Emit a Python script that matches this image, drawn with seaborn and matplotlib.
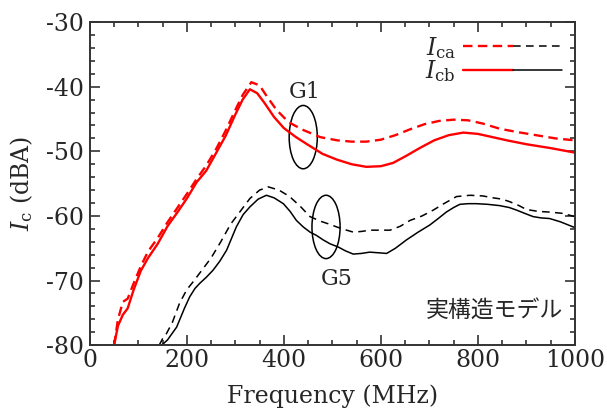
#!/usr/bin/env python3
"""Ic vs frequency for G1 / G5 (Ica dashed, Icb solid)."""
import numpy as np
import pandas as pd
import matplotlib
matplotlib.use("Agg")
import matplotlib.pyplot as plt
from matplotlib.patches import Ellipse
from matplotlib.legend_handler import HandlerTuple
from matplotlib.ticker import MultipleLocator
import seaborn as sns

# --- DATA ---
g1_icb_freq = [50, 58, 68, 78, 90, 105, 120, 140, 160, 180, 200, 220, 240, 260, 280,
               300, 315, 330, 345, 360, 380, 400, 425, 450, 480, 510, 540, 570, 600,
               625, 650, 680, 710, 740, 770, 800, 830, 860, 900, 950, 1000]
g1_icb_val = [-80, -77, -75.3, -74.3, -71.5, -68.5, -66.5, -64.3, -61.6, -59.5, -57.3,
              -54.8, -53, -50.3, -47.6, -44.3, -42, -40.4, -41, -42.5, -44.7, -46.4,
              -47.8, -49, -50.4, -51.3, -52, -52.4, -52.3, -51.8, -50.8, -49.5, -48.3,
              -47.5, -47.1, -47.3, -47.8, -48.3, -48.9, -49.5, -50.2]

g1_ica_freq = [50, 58, 68, 78, 90, 105, 120, 140, 160, 180, 200, 220, 240, 260, 280,
               300, 315, 333, 350, 365, 385, 410, 440, 475, 510, 540, 570, 600, 630,
               660, 690, 720, 750, 780, 810, 845, 880, 920, 960, 1000]
g1_ica_val = [-80, -76, -73.3, -72.8, -70.5, -67.8, -65.5, -63.4, -61, -58.8, -56.6,
              -54.3, -52.2, -49.7, -46.8, -43.6, -41.3, -39.3, -39.8, -41.5, -43.6,
              -45.5, -46.7, -47.8, -48.3, -48.5, -48.5, -48.2, -47.5, -46.6, -45.8,
              -45.3, -45.1, -45.2, -45.7, -46.5, -47, -47.5, -48, -48.3]

g5_icb_freq = [148, 160, 179, 195, 206, 217, 227, 240, 254, 268, 282, 302, 316, 330,
               347, 364, 380, 399, 413, 426, 440, 454, 467, 481, 495, 512, 527, 543,
               560, 577, 595, 612, 630, 653, 677, 701, 720, 735, 750, 763, 780, 797,
               820, 845, 865, 880, 900, 914, 930, 948, 970, 1000]
g5_icb_val = [-80, -79.2, -77.2, -74.3, -72.5, -71.2, -70.4, -69.5, -68.4, -67, -65.3,
              -61.7, -59.8, -58.6, -57.4, -56.8, -57.2, -58.1, -59.3, -60.7, -61.7,
              -62.5, -63, -63.7, -64.3, -64.8, -65.4, -65.9, -65.8, -65.6, -65.7,
              -65.8, -65, -63.7, -62.5, -61.4, -60.3, -59.4, -58.7, -58.2, -58.1,
              -58.1, -58.2, -58.4, -58.7, -59.1, -59.7, -60.1, -60.3, -60.4, -60.9, -61.8]

g5_ica_freq = [143, 150, 158, 170, 185, 200, 215, 230, 250, 270, 290, 310, 330, 350,
               368, 390, 412, 435, 454, 475, 495, 509, 525, 543, 560, 577, 600, 619,
               640, 660, 685, 708, 730, 756, 784, 810, 832, 850, 866, 885, 900, 925,
               948, 975, 1000]
g5_ica_val = [-80, -79, -78.2, -76.5, -73.5, -71.4, -70, -68.5, -66.5, -64, -61.3,
              -59.3, -57.3, -56, -55.5, -56, -57, -58.6, -60.1, -60.8, -61.3, -61.7,
              -62.1, -62.5, -62.4, -62.2, -62.2, -62.2, -61.6, -60.7, -60, -59.1,
              -58.1, -57, -56.8, -56.9, -57.2, -57.4, -57.8, -58.4, -59, -59.3, -59.4,
              -59.6, -60.1]

SERIES = [
    ("G1", "Ica", g1_ica_freq, g1_ica_val),
    ("G1", "Icb", g1_icb_freq, g1_icb_val),
    ("G5", "Ica", g5_ica_freq, g5_ica_val),
    ("G5", "Icb", g5_icb_freq, g5_icb_val),
]
COLORS = {"G1": "#ff0000", "G5": "black"}
WIDTHS = {"G1": 1.7, "G5": 1.1}
DASHES = {("G1", "Ica"): (4, 2.3), ("G5", "Ica"): (5, 3.5)}

# (group, freq, level, ellipse width MHz, height dB, label freq, label level)
GROUP_MARKS = [("G1", 440, -47.8, 58, 9.8, 443, -40.8),
               ("G5", 487, -61.7, 58, 9.8, 509, -69.7)]


def build_frame():
    rows = []
    for group, cur, freqs, vals in SERIES:
        for f, v in zip(freqs, vals):
            rows.append({"group": group, "current": cur, "freq": f, "level": v})
    return pd.DataFrame(rows)


def main():
    sns.set_style("ticks")
    plt.rcParams["font.family"] = ["DejaVu Serif", "Noto Sans CJK JP"]
    plt.rcParams["mathtext.fontset"] = "dejavuserif"
    plt.rcParams["axes.unicode_minus"] = False

    df = build_frame()

    fig = plt.figure(figsize=(6.07, 4.09), dpi=100)
    ax = fig.add_axes([0.148, 0.156, 0.799, 0.790])

    handles = {}
    for (group, cur), sub in df.groupby(["group", "current"], sort=False):
        sns.lineplot(data=sub, x="freq", y="level", ax=ax, sort=False,
                     estimator=None, color=COLORS[group], linewidth=WIDTHS[group])
        line = ax.get_lines()[-1]
        if (group, cur) in DASHES:
            line.set_dashes(DASHES[(group, cur)])
        handles[(group, cur)] = line

    for group, fx, fy, w, h, lx, ly in GROUP_MARKS:
        ax.add_patch(Ellipse((fx, fy), w, h, fill=False, edgecolor="black", lw=1.1))
        ax.text(lx, ly, group, fontsize=16, ha="center", va="center")

    ax.text(0.975, 0.105, "実構造モデル", transform=ax.transAxes, ha="right",
            va="center", fontsize=16.5, family=["Noto Sans CJK JP", "DejaVu Sans"])

    ax.legend(
        [(handles[("G1", "Ica")], handles[("G5", "Ica")]),
         (handles[("G1", "Icb")], handles[("G5", "Icb")])],
        [r"$I_{\rm ca}$", r"$I_{\rm cb}$"],
        handler_map={tuple: HandlerTuple(ndivide=None, pad=0)},
        loc="upper right", bbox_to_anchor=(1.008, 1.012), markerfirst=False,
        frameon=False, fontsize=17, handlelength=4.2, handletextpad=0.3,
        labelspacing=-0.1, borderpad=0.2)

    ax.set_xlim(0, 1000)
    ax.set_ylim(-80, -30)
    ax.xaxis.set_major_locator(MultipleLocator(200))
    ax.xaxis.set_minor_locator(MultipleLocator(50))
    ax.yaxis.set_major_locator(MultipleLocator(10))
    ax.yaxis.set_minor_locator(MultipleLocator(2))
    ax.tick_params(which="both", direction="in", top=True, right=True,
                   color="#333333", width=1.2)
    ax.tick_params(which="major", length=7, labelsize=17)
    ax.tick_params(axis="x", which="major", pad=3)
    ax.tick_params(axis="y", which="major", pad=4)
    ax.tick_params(which="minor", length=3.5)
    for sp in ax.spines.values():
        sp.set_linewidth(1.4)
        sp.set_color("#333333")

    ax.set_xlabel("Frequency (MHz)", fontsize=17, labelpad=9)
    ax.set_ylabel(r"$I_{\rm c}$ (dBA)", fontsize=17, labelpad=8)

    fig.savefig("out.png", dpi=100)
    plt.close(fig)


if __name__ == "__main__":
    main()
